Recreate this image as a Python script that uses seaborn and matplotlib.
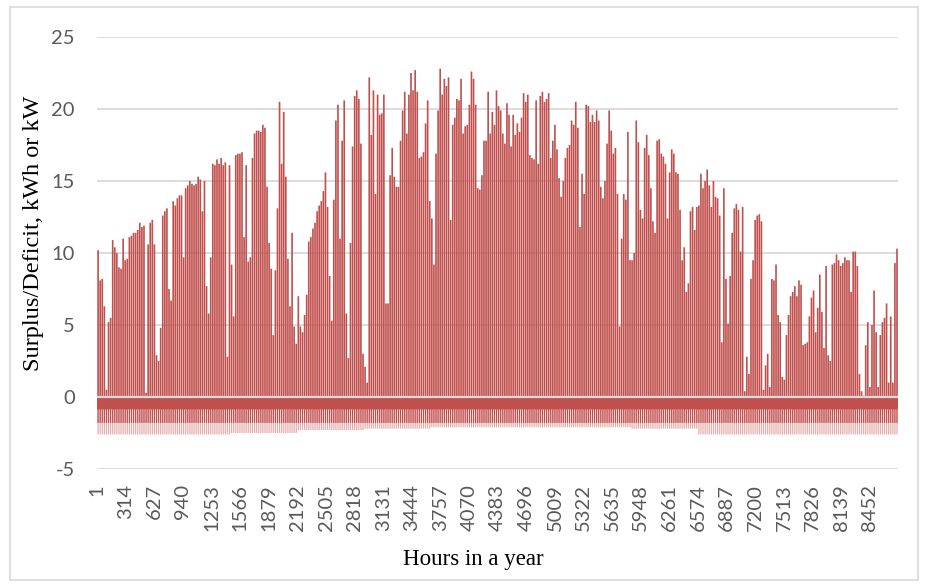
import numpy as np
import pandas as pd
import matplotlib
matplotlib.use("Agg")
import matplotlib.pyplot as plt
from matplotlib.patches import Rectangle
import seaborn as sns

# ---- data (daily peak surplus, kW, Jan -> Dec) ----
peak_jan_feb = [10.2, 8.1, 8.2, 6.3, 0.5, 5.2, 5.5, 10.9, 10.4, 10.0, 9.0, 8.9, 11.0, 9.5, 9.6,
                11.1, 11.2, 11.4, 11.4, 11.6, 12.1, 11.8, 11.9, 0.3, 10.6, 12.1, 12.3, 10.6, 2.9,
                2.5, 4.8, 12.6, 12.9, 13.1, 7.5, 6.7, 13.6, 13.3, 13.8, 14.0, 14.0, 9.7, 14.5,
                14.7, 15.0, 14.8, 14.7, 14.8, 15.3, 15.1, 12.9, 15.0, 7.7, 5.8, 9.7, 16.2, 16.1,
                16.5, 16.2, 16.6, 16.1, 16.3, 2.8, 16.1]
peak_mar_apr = [9.2, 5.6, 16.8, 16.9, 16.9, 17.0, 11.1, 16.1, 9.4, 9.7, 16.6, 18.3, 18.5, 18.5,
                18.4, 18.9, 18.7, 14.6, 10.7, 8.9, 4.3, 8.8, 13.1, 20.5, 16.2, 19.8, 15.3, 9.6,
                6.3, 11.4, 4.9, 3.7, 7.0, 4.9, 4.5, 5.7, 7.1, 10.8, 11.1, 11.7, 12.1, 12.9, 13.3,
                13.6, 14.3, 15.6, 13.2, 8.4, 5.3, 13.7, 19.2, 20.3, 11.0, 17.8, 20.6, 5.8, 2.7,
                10.7, 17.4, 20.9, 21.3, 20.7, 17.6]
peak_may_jun = [3.0, 2.1, 1.0, 22.2, 18.2, 21.3, 14.1, 21.0, 19.6, 19.7, 21.0, 6.5, 6.5, 15.4,
                17.3, 15.3, 14.6, 14.6, 17.8, 19.9, 21.2, 18.3, 21.0, 22.5, 21.3, 22.7, 21.2,
                16.6, 16.7, 17.0, 19.0, 20.6, 13.6, 12.4, 9.2, 16.9, 19.9, 22.8, 21.0, 22.1,
                21.6, 22.2, 12.3, 18.9, 19.4, 20.7, 20.6, 22.1, 18.3, 18.8, 18.9, 20.3, 22.6,
                22.1, 20.3, 14.5, 14.4, 15.4, 17.8, 17.8, 21.2, 18.3]
peak_jul_aug = [19.8, 18.9, 21.3, 20.2, 19.9, 18.3, 17.6, 20.4, 19.6, 17.4, 19.6, 18.2, 19.0,
                18.4, 19.4, 21.1, 20.5, 21.0, 16.8, 16.6, 16.5, 20.6, 16.2, 20.9, 21.2, 20.5,
                20.7, 21.1, 16.6, 17.8, 18.9, 17.2, 15.2, 13.9, 15.0, 16.6, 17.3, 17.5, 19.2,
                18.9, 20.5, 18.7, 11.8, 15.5, 14.1, 20.3, 20.2, 19.1, 19.6, 19.1, 19.9, 19.2,
                14.6, 13.8, 15.0, 17.6, 19.9, 18.5, 16.9, 17.3, 14.1, 4.9, 11.0, 14.1]
peak_sep_oct = [13.7, 18.4, 9.5, 9.5, 10.0, 19.2, 17.7, 13.0, 12.4, 17.3, 18.2, 16.8, 14.5,
                12.2, 11.4, 17.8, 17.9, 16.9, 16.7, 16.2, 12.4, 15.6, 17.2, 16.9, 15.6, 15.5,
                13.0, 9.5, 10.4, 7.3, 7.9, 12.9, 13.2, 11.6, 13.2, 13.3, 15.5, 14.5, 15.0, 15.8,
                14.7, 13.2, 15.0, 13.9, 13.8, 12.6, 3.8, 14.5, 8.2, 5.1, 8.4, 11.4, 13.1, 13.4,
                13.0, 10.1, 13.2, 0.4, 2.8, 1.6, 8.2]
peak_nov_dec = [9.5, 12.3, 12.6, 12.7, 12.2, 0.5, 2.2, 3.0, 0.7, 8.2, 8.1, 9.2, 5.7, 5.2, 1.4,
                1.2, 4.3, 5.7, 7.0, 7.3, 7.7, 7.0, 8.1, 7.8, 3.6, 3.7, 3.8, 5.6, 6.9, 7.4, 4.5,
                6.2, 8.5, 5.9, 3.4, 9.1, 2.9, 2.5, 9.2, 9.3, 9.9, 9.5, 9.1, 9.3, 9.7, 9.5, 9.5,
                7.3, 10.1, 10.1, 9.1, 1.6, 0.4, 0.1, 3.6, 5.2, 0.7, 5.0, 7.4, 4.5, 0.7, 4.3, 5.2,
                5.5, 6.5, 1.0, 5.6, 1.0, 9.3, 10.3]

# deficit side (kW)
base_deficit = -0.85          # continuous night-time load
evening_deficit = -1.8        # typical evening load
night_deficit_monthly = [-2.6, -2.6, -2.5, -2.3, -2.2, -2.1, -2.1, -2.1, -2.2, -2.6, -2.6, -2.6]

tick_labels = [1, 314, 627, 940, 1253, 1566, 1879, 2192, 2505, 2818, 3131, 3444, 3757, 4070,
               4383, 4696, 5009, 5322, 5635, 5948, 6261, 6574, 6887, 7200, 7513, 7826, 8139, 8452]
y_ticks = [-5, 0, 5, 10, 15, 20, 25]

peaks = np.array(peak_jan_feb + peak_mar_apr + peak_may_jun + peak_jul_aug + peak_sep_oct + peak_nov_dec)
n = len(peaks)
hours = 1 + (np.arange(n) + 0.5) * 8760 / n
month_idx = np.minimum((hours / 730).astype(int), 11)
night = np.array(night_deficit_monthly)[month_idx]

df = pd.DataFrame({"hour": hours, "peak": peaks, "night": night,
                   "evening": evening_deficit, "base": base_deficit})

# ---- style ----
sns.set_theme(style="white")
plt.rcParams["font.family"] = ["Lato", "DejaVu Sans"]

RED = "#C0504D"
PINK = "#E4AEAC"
GRID = "#D9D9D9"
TXT = "#595959"

fig = plt.figure(figsize=(9.26, 5.84), dpi=100)
ax = fig.add_axes([97 / 926, 1 - 469 / 584, (898 - 97) / 926, (469 - 37) / 584])

common = dict(data=df, x="hour", native_scale=True, orient="x", saturation=1,
              linewidth=0, errorbar=None, ax=ax)
sns.barplot(y="night", width=0.6, color=PINK, zorder=2, **common)
sns.barplot(y="evening", width=0.6, color=RED, zorder=3, **common)
sns.barplot(y="base", width=1.4, color=RED, zorder=4, **common)
sns.barplot(y="peak", width=0.8, color=RED, zorder=4, **common)

for p in ax.patches:
    p.set_snap(False)

ax.axhline(0, color=GRID, lw=1.6, zorder=6)

ax.set_xlim(0.5, 8760.5)
ax.set_ylim(-5, 25)
ax.set_yticks(y_ticks)
ax.set_yticklabels([str(v) for v in y_ticks])
ax.set_xticks(tick_labels)
ax.set_xticklabels([str(v) for v in tick_labels], rotation=90)
ax.tick_params(axis="y", length=0, pad=16, labelsize=14.5, labelcolor=TXT)
ax.tick_params(axis="x", length=0, pad=11, labelsize=14.5, labelcolor=TXT)
ax.grid(axis="y", color=GRID, lw=1.3, zorder=0)
ax.set_axisbelow(True)
for s in ax.spines.values():
    s.set_visible(False)
ax.set_xlabel("")
ax.set_ylabel("")

fig.text(473 / 926, 1 - 560 / 584, "Hours in a year", ha="center", va="center",
         fontsize=16.5, family=["Liberation Serif", "DejaVu Serif"], color="#000000")
fig.text(34 / 926, 1 - 233 / 584, "Surplus/Deficit, kWh or kW", ha="center", va="center",
         rotation=90, fontsize=17.5, family=["Liberation Serif", "DejaVu Serif"], color="#000000")

fig.patches.append(Rectangle((10 / 926, 1 - 580 / 584), (918 - 10) / 926, (580 - 7) / 584,
                             transform=fig.transFigure, fill=False, edgecolor=GRID, lw=1.2))

fig.savefig("out.png", dpi=100)
